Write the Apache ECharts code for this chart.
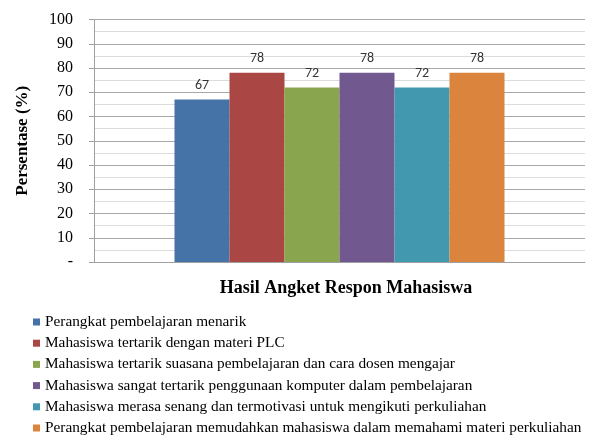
<!DOCTYPE html>
<html>
<head>
<meta charset="utf-8">
<script src="https://cdn.jsdelivr.net/npm/echarts@6/dist/echarts.min.js"></script>
<style>
  html, body { margin: 0; padding: 0; background: #fff; }
  #chart { width: 592px; height: 436px; }
</style>
</head>
<body>
<div id="chart"></div>
<script>
const categories = ['']
const seriesNames = [
  'Perangkat pembelajaran menarik',
  'Mahasiswa tertarik dengan materi PLC',
  'Mahasiswa tertarik suasana pembelajaran dan cara dosen mengajar',
  'Mahasiswa sangat tertarik penggunaan komputer dalam pembelajaran',
  'Mahasiswa merasa senang dan termotivasi untuk mengikuti perkuliahan',
  'Perangkat pembelajaran memudahkan mahasiswa dalam memahami materi perkuliahan'
]
const seriesValues = [67, 78, 72, 78, 72, 78]
const colors = ['#4572a7', '#aa4643', '#89a54e', '#71588f', '#4198af', '#db843d']

const serif = '"Liberation Serif", "Times New Roman", serif'

const chart = echarts.init(document.getElementById('chart'))

// one bar per statement, all in the single empty category
const series = seriesNames.map((name, i) => ({
  name: name,
  type: 'bar',
  data: [seriesValues[i]],
  barWidth: 55,
  barGap: '0%',
  itemStyle: { color: colors[i] },
  label: {
    show: true,
    position: 'top',
    distance: 7,
    color: '#333',
    fontSize: 14,
    fontFamily: 'Carlito, "Open Sans", sans-serif'
  }
}))

chart.setOption({
  animation: false,
  color: colors,
  grid: { left: 94, right: 7, top: 19.5, bottom: 174 },
  legend: {
    orient: 'vertical',
    left: 33,
    top: 314,
    width: 559,
    height: 130,
    padding: 0,
    itemWidth: 7,
    itemHeight: 7,
    itemGap: 5.2,
    icon: 'rect',
    textStyle: {
      fontFamily: serif,
      fontSize: 15.3,
      lineHeight: 16,
      color: '#000',
      padding: [0, 0, 0, 0]
    },
    data: seriesNames
  },
  xAxis: {
    type: 'category',
    data: categories,
    name: 'Hasil Angket Respon Mahasiswa',
    nameLocation: 'middle',
    nameGap: 17,
    nameTextStyle: {
      fontFamily: serif,
      fontSize: 18,
      fontWeight: 'bold',
      color: '#000',
      padding: [0, 0, 0, 13]
    },
    axisLine: { lineStyle: { color: '#a0a0a0' } },
    axisTick: { show: false },
    axisLabel: { show: false }
  },
  yAxis: {
    type: 'value',
    min: 0,
    max: 100,
    interval: 10,
    name: 'Persentase (%)',
    nameLocation: 'middle',
    nameGap: 63,
    nameTextStyle: { fontFamily: serif, fontSize: 17, fontWeight: 'bold', color: '#000' },
    axisLine: { show: true, lineStyle: { color: '#a0a0a0' } },
    axisTick: { show: true, length: 5, lineStyle: { color: '#a0a0a0' } },
    axisLabel: {
      fontFamily: serif,
      fontSize: 16,
      color: '#000',
      margin: 21,
      formatter: v => v === 0 ? '-' : String(v)
    },
    splitLine: { lineStyle: { color: '#a8a8a8' } },
    minorTick: { show: false, splitNumber: 2 },
    minorSplitLine: { show: true, lineStyle: { color: '#dcdcdc' } }
  },
  series: series
})
</script>
</body>
</html>
